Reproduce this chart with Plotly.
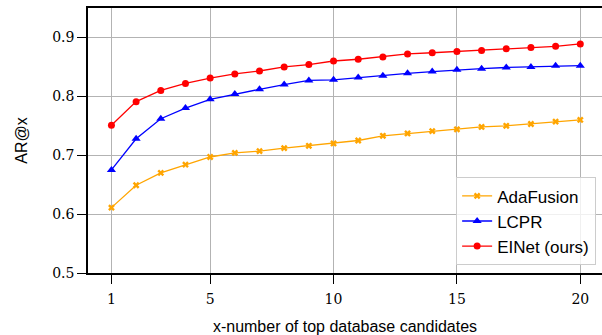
import plotly.graph_objects as go

x_vals = list(range(1, 21))
adafusion = [0.611, 0.649, 0.670, 0.684, 0.697, 0.704, 0.707, 0.712, 0.716, 0.720,
             0.725, 0.733, 0.737, 0.741, 0.744, 0.748, 0.750, 0.753, 0.757, 0.760]
lcpr = [0.675, 0.728, 0.762, 0.780, 0.795, 0.804, 0.812, 0.820, 0.827, 0.828,
        0.832, 0.835, 0.839, 0.842, 0.845, 0.847, 0.849, 0.850, 0.852, 0.852]
einet = [0.751, 0.791, 0.810, 0.822, 0.831, 0.838, 0.843, 0.850, 0.854, 0.860,
         0.863, 0.867, 0.872, 0.874, 0.876, 0.878, 0.881, 0.883, 0.885, 0.889]
x_ticks = [1, 5, 10, 15, 20]
y_ticks = [0.5, 0.6, 0.7, 0.8, 0.9]

fig = go.Figure()
fig.add_trace(go.Scatter(x=x_vals, y=adafusion, mode="lines+markers", name="AdaFusion",
                         line=dict(color="#FFA500", width=1.3),
                         marker=dict(symbol="x", size=6, color="#FFA500")))
fig.add_trace(go.Scatter(x=x_vals, y=lcpr, mode="lines+markers", name="LCPR",
                         line=dict(color="#0000FF", width=1.3),
                         marker=dict(symbol="triangle-up", size=8, color="#0000FF")))
fig.add_trace(go.Scatter(x=x_vals, y=einet, mode="lines+markers", name="EINet (ours)",
                         line=dict(color="#FF0000", width=1.3),
                         marker=dict(symbol="circle", size=7, color="#FF0000")))

tickfont = dict(family="DejaVu Serif", size=14, color="black")
fig.update_layout(
    width=602, height=335,
    margin=dict(l=88, r=0, t=8, b=62),
    paper_bgcolor="white", plot_bgcolor="white",
    showlegend=True,
    legend=dict(x=0.988, y=0.03, xanchor="right", yanchor="bottom",
                bgcolor="rgba(255,255,255,0.8)", bordercolor="#cccccc", borderwidth=1.3,
                font=dict(family="Liberation Sans", size=17, color="black")),
    xaxis=dict(range=[0.05, 20.88], tickvals=x_ticks, ticktext=[str(t) for t in x_ticks],
               automargin=False,
               ticks="outside", ticklen=9, tickwidth=1.3, tickcolor="black",
               ticklabelstandoff=3,
               showline=True, linecolor="black", linewidth=1.6, mirror=True,
               showgrid=True, gridcolor="#b3b3b3", gridwidth=1.3, zeroline=False,
               tickfont=tickfont,
               title=dict(text="x-number of top database candidates",
                          font=dict(family="Liberation Sans", size=16, color="black"),
                          standoff=16)),
    yaxis=dict(range=[0.5, 0.95], tickvals=y_ticks, ticktext=["0.5", "0.6", "0.7", "0.8", "0.9"],
               automargin=False,
               ticks="outside", ticklen=9, tickwidth=1.3, tickcolor="black",
               showline=True, linecolor="black", linewidth=1.6, mirror=False,
               showgrid=True, gridcolor="#b3b3b3", gridwidth=1.3, zeroline=False,
               tickfont=tickfont,
               title=dict(text="AR@x",
                          font=dict(family="Liberation Sans", size=16, color="black"),
                          standoff=21)),
)
fig.write_html("out.html", config={"displayModeBar": False},
               post_script="document.body.style.margin='0';document.body.style.overflow='hidden';")
